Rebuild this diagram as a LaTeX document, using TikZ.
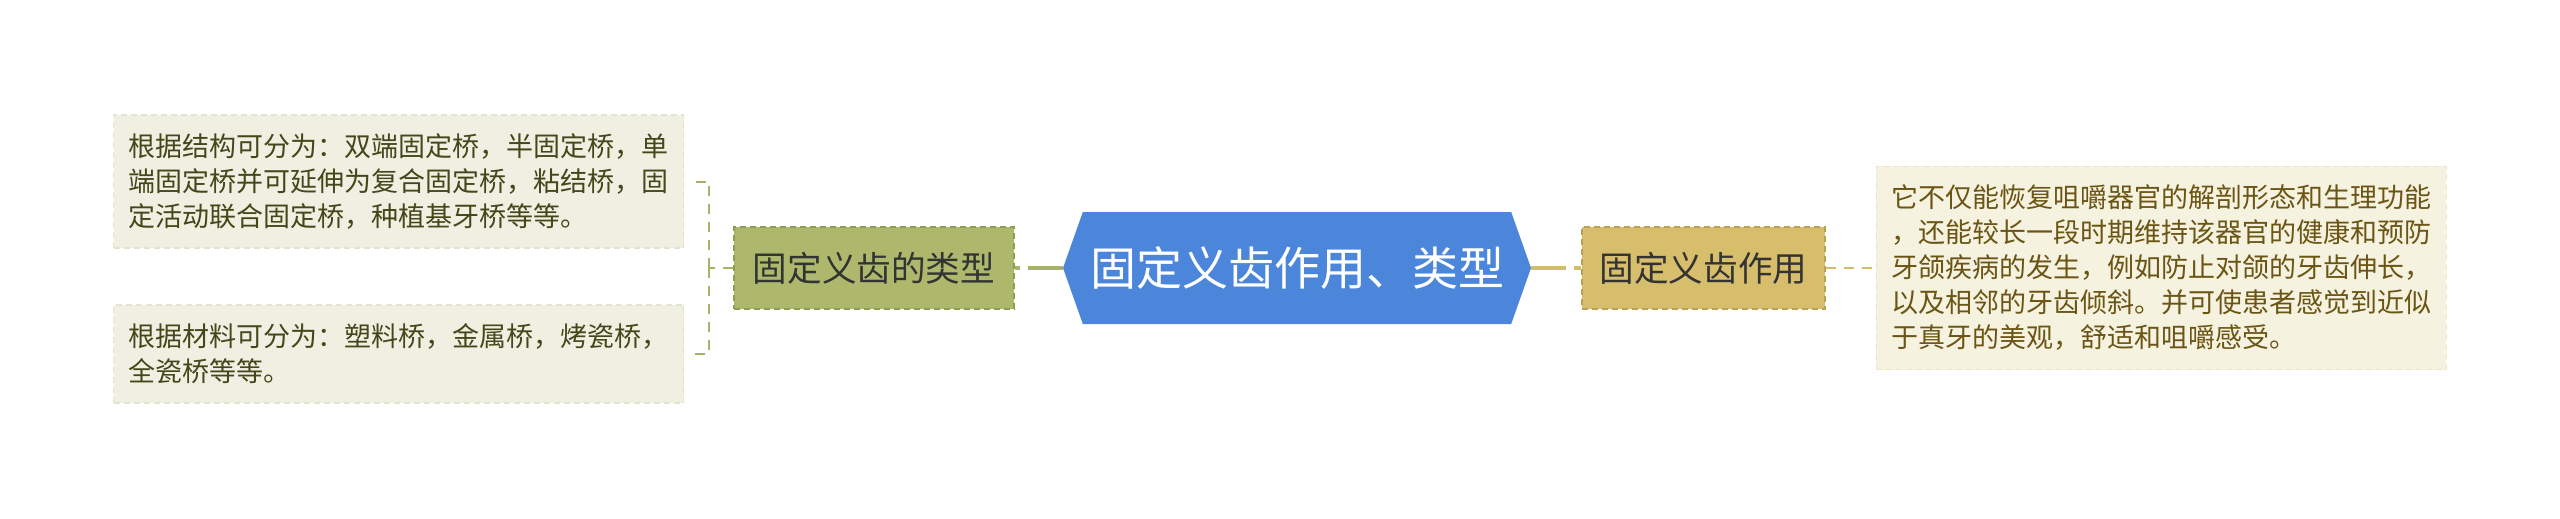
\documentclass[tikz,border=0pt]{standalone}
\usepackage{fontspec}
\newfontfamily\cjk{Noto Sans CJK SC}
\usepackage{tikz}
\usetikzlibrary{shapes,shapes.symbols,calc,positioning}
\definecolor{rootblue}{HTML}{4C86DA}
\definecolor{olivefill}{HTML}{ADB86C}
\definecolor{olivedraw}{HTML}{909C52}
\definecolor{olivelink}{HTML}{A9B26A}
\definecolor{goldfill}{HTML}{D7BE6C}
\definecolor{golddraw}{HTML}{B9A252}
\definecolor{goldlink}{HTML}{D2BD6C}
\definecolor{leafgreen}{HTML}{EFF0E2}
\definecolor{leafgreendraw}{HTML}{E2E4CF}
\definecolor{leafgold}{HTML}{F6F2E0}
\definecolor{leafgolddraw}{HTML}{ECE5C8}
\definecolor{textolive}{HTML}{46461A}
\definecolor{textgold}{HTML}{6A5514}
\tikzset{
        root/.style = {signal, signal to=west and east,
            signal pointer angle=141, fill=rootblue,
            minimum width=234pt, minimum height=56pt, inner sep=0pt,
            text=white, font=\cjk\fontsize{23pt}{27pt}\selectfont},
        topic/.style = {rectangle, draw, dashed, line width=0.6pt,
            dash pattern=on 3pt off 2pt,
            minimum height=41pt, inner sep=0pt,
            text=black!80, font=\cjk\fontsize{17.3pt}{20pt}\selectfont},
        leaf/.style = {rectangle, draw, line width=0.6pt,
            dash pattern=on 3pt off 2pt, align=left,
            text width=270pt, inner xsep=7.5pt, inner ysep=0pt,
            font=\cjk\fontsize{13.5pt}{17.5pt}\selectfont},
        link/.style = {line width=2pt, dash pattern=on 17.5pt off 4pt},
        twig/.style = {line width=1pt, dash pattern=on 5pt off 4pt},
    }
\begin{document}
\begin{tikzpicture}
    \useasboundingbox (0,0) rectangle (1280pt,-259.5pt);

    \node[root] (ctr) at (648.5pt,-134pt) {固定义齿作用、类型};

    \node[topic, left=24pt of ctr, fill=olivefill, draw=olivedraw,
        minimum width=140pt] (kind) {固定义齿的类型};
    \node[topic, right=25pt of ctr, fill=goldfill, draw=golddraw,
        minimum width=121.5pt] (use) {固定义齿作用};

    \node[leaf, anchor=east, fill=leafgreen, draw=leafgreendraw,
        text=textolive, minimum height=66.5pt]
        (struct) at ($(kind.west)+(-24.5pt,43.25pt)$)
        {根据结构可分为：双端固定桥，半固定桥，单\\
         端固定桥并可延伸为复合固定桥，粘结桥，固\\
         定活动联合固定桥，种植基牙桥等等。};
    \node[leaf, anchor=east, fill=leafgreen, draw=leafgreendraw,
        text=textolive, minimum height=49pt]
        (mater) at ($(kind.west)+(-24.5pt,-43pt)$)
        {根据材料可分为：塑料桥，金属桥，烤瓷桥，\\
         全瓷桥等等。};
    \node[leaf, right=25pt of use, fill=leafgold, draw=leafgolddraw,
        text=textgold, minimum height=101.5pt] (role)
        {它不仅能恢复咀嚼器官的解剖形态和生理功能\\
         ，还能较长一段时期维持该器官的健康和预防\\
         牙颌疾病的发生，例如防止对颌的牙齿伸长，\\
         以及相邻的牙齿倾斜。并可使患者感觉到近似\\
         于真牙的美观，舒适和咀嚼感受。};

    % links from the root
    \draw[link, olivelink] (ctr.west) -- (kind.east);
    \draw[link, goldlink] (ctr.east) -- (use.east -| use.west);

    % branches to the leaves
    \coordinate (fork) at ($(kind.west)+(-12pt,0)$);
    \draw[twig, olivelink] (kind.west) -- (fork);
    \draw[twig, olivelink, shorten >=3pt] (fork) |- (struct.east);
    \draw[twig, olivelink, shorten >=3pt] (fork) |- (mater.east);
    \draw[twig, goldlink] (use.east) -- (role.west);
\end{tikzpicture}
\end{document}
